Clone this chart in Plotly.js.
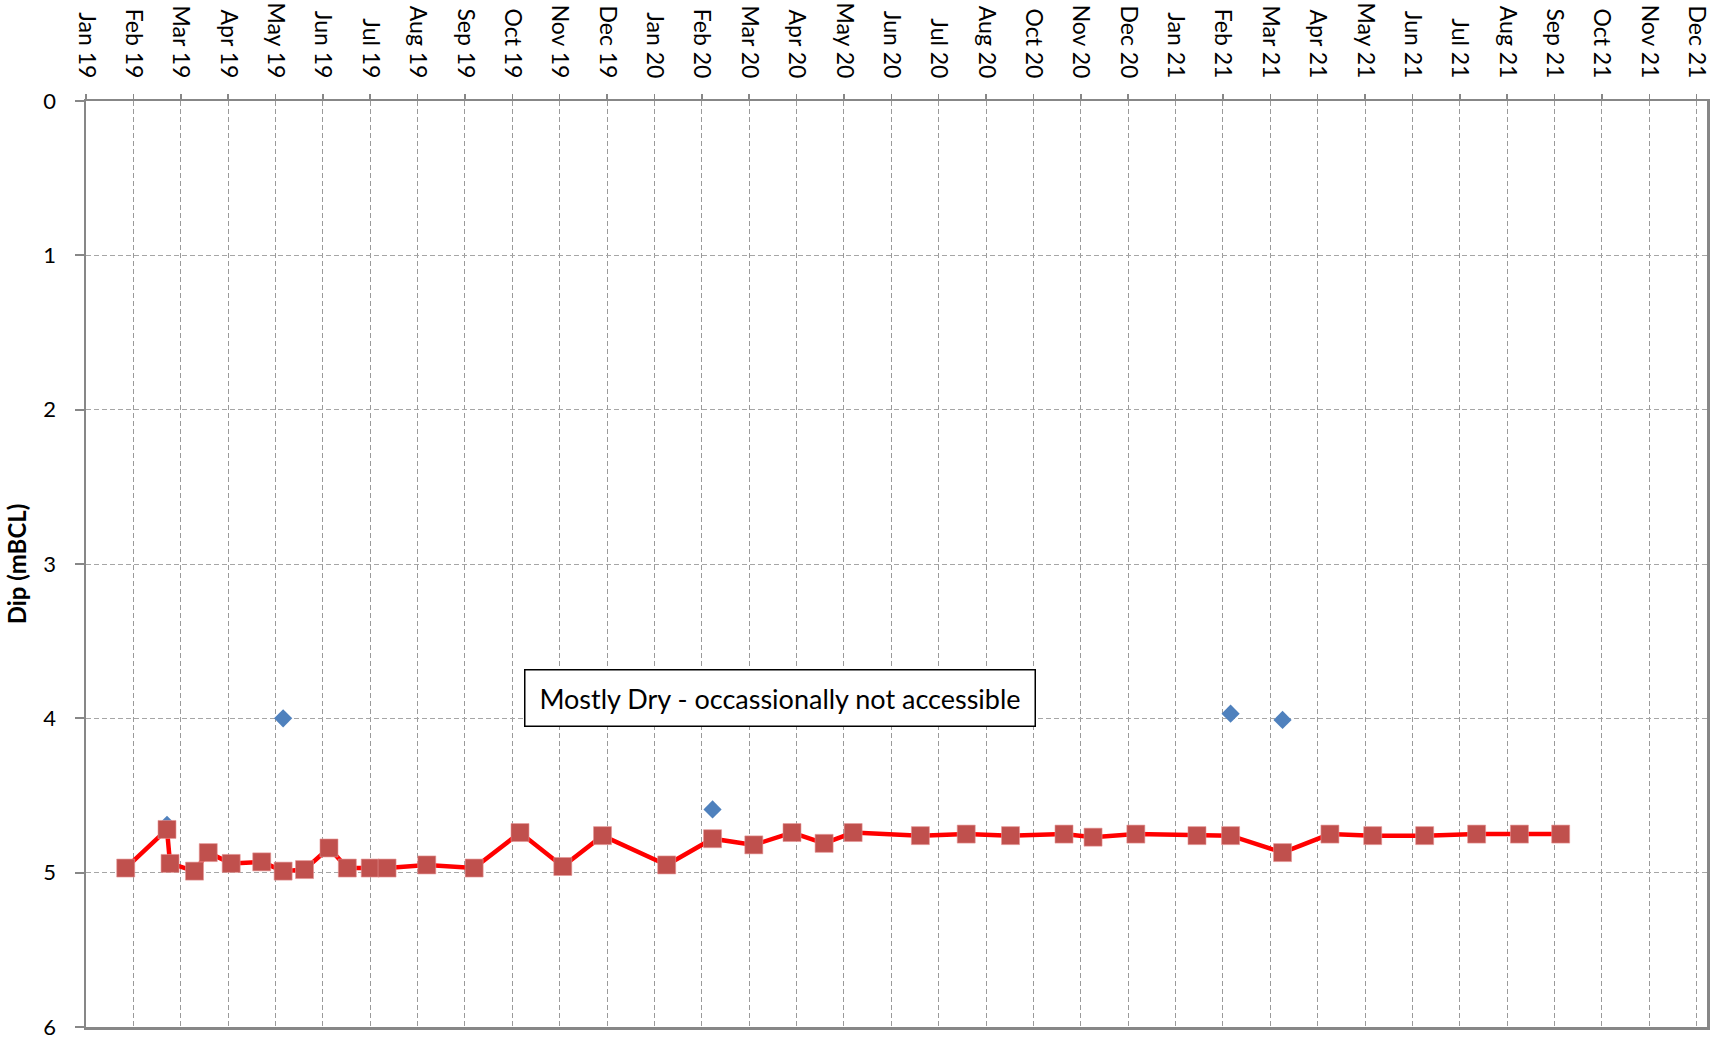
<!DOCTYPE html>
<html>
<head>
<meta charset="utf-8">
<script src="https://cdn.plot.ly/plotly-3.0.1.min.js"></script>
<style>html,body{margin:0;padding:0;background:#fff;}#chart{width:1712px;height:1040px;}</style>
</head>
<body>
<div id="chart"></div>
<script>
// Red series: dip readings (mBCL)
const dipDates = [
  '2019-02-15','2019-03-14','2019-03-16','2019-04-01','2019-04-10','2019-04-25','2019-05-15','2019-05-29',
  '2019-06-12','2019-06-28','2019-07-10','2019-07-25','2019-08-05','2019-08-31','2019-10-01','2019-10-31',
  '2019-11-28','2019-12-24','2020-02-04','2020-03-05','2020-04-01','2020-04-26','2020-05-17','2020-06-05',
  '2020-07-19','2020-08-18','2020-09-16','2020-10-21','2020-11-09','2020-12-07','2021-01-16','2021-02-07',
  '2021-03-13','2021-04-13','2021-05-11','2021-06-14','2021-07-18','2021-08-15','2021-09-11'
];
const dipValues = [
  4.97, 4.72, 4.94, 4.99, 4.87, 4.94, 4.93, 4.99,
  4.98, 4.84, 4.97, 4.97, 4.97, 4.95, 4.97, 4.74,
  4.96, 4.76, 4.95, 4.78, 4.82, 4.74, 4.81, 4.74,
  4.76, 4.75, 4.76, 4.75, 4.77, 4.75, 4.76, 4.76,
  4.87, 4.75, 4.76, 4.76, 4.75, 4.75, 4.75
];

// Blue series: secondary readings
const blueDates = ['2019-03-14','2019-05-29','2020-03-05','2021-02-07','2021-03-13'];
const blueValues = [4.69, 4.00, 4.59, 3.97, 4.01];

// Axis ticks
const tickDates = [
  '2019-01-20','2019-02-20','2019-03-23','2019-04-23','2019-05-24','2019-06-24','2019-07-25','2019-08-25',
  '2019-09-25','2019-10-26','2019-11-26','2019-12-27','2020-01-27','2020-02-27','2020-03-29','2020-04-29',
  '2020-05-30','2020-06-30','2020-07-31','2020-08-31','2020-10-01','2020-11-01','2020-12-02','2021-01-02',
  '2021-02-02','2021-03-05','2021-04-05','2021-05-06','2021-06-06','2021-07-07','2021-08-07','2021-09-07',
  '2021-10-08','2021-11-08','2021-12-09'
];
const tickLabels = [
  'Jan 19','Feb 19','Mar 19','Apr 19','May 19','Jun 19','Jul 19','Aug 19',
  'Sep 19','Oct 19','Nov 19','Dec 19','Jan 20','Feb 20','Mar 20','Apr 20',
  'May 20','Jun 20','Jul 20','Aug 20','Oct 20','Nov 20','Dec 20','Jan 21',
  'Feb 21','Mar 21','Apr 21','May 21','Jun 21','Jul 21','Aug 21','Sep 21',
  'Oct 21','Nov 21','Dec 21'
];
const yTicks = [0, 1, 2, 3, 4, 5, 6];
const noteText = 'Mostly Dry - occassionally not accessible';

const FONT = 'Lato, "Open Sans", "Liberation Sans", sans-serif';
const AXIS_GRAY = '#878787';

const traces = [
  {
    x: blueDates, y: blueValues, type: 'scatter', mode: 'markers',
    marker: {symbol: 'diamond', size: 14, color: '#4F81BD', line: {width: 0}},
    hoverinfo: 'x+y', showlegend: false, cliponaxis: false
  },
  {
    x: dipDates, y: dipValues, type: 'scatter', mode: 'lines+markers',
    line: {color: '#FF0000', width: 4.5},
    marker: {symbol: 'square', size: 18, color: '#C0504D', line: {width: 1, color: 'rgba(230,150,150,0.6)'}},
    hoverinfo: 'x+y', showlegend: false
  }
];

const layout = {
  width: 1712, height: 1040,
  margin: {l: 86, r: 5, t: 101, b: 13, pad: 0},
  paper_bgcolor: '#ffffff', plot_bgcolor: '#ffffff',
  font: {family: FONT, color: '#000000', size: 22},
  showlegend: false,
  xaxis: {
    type: 'date', side: 'top',
    range: ['2019-01-20', '2021-12-15 18:00'],
    tickmode: 'array', tickvals: tickDates, ticktext: tickLabels,
    tickangle: 90, tickfont: {family: FONT, size: 23, color: '#000'},
    ticks: 'outside', ticklen: 5, tickwidth: 1.5, tickcolor: AXIS_GRAY,
    ticklabelstandoff: 7, ticklabeloverflow: 'allow',
    showline: true, mirror: true, linecolor: AXIS_GRAY, linewidth: 2.5,
    showgrid: true, gridcolor: '#9a9a9a', gridwidth: 1, griddash: '5px,3px',
    zeroline: false, fixedrange: true
  },
  yaxis: {
    range: [6, 0], tickmode: 'array', tickvals: yTicks, ticktext: yTicks.map(String),
    tickfont: {family: FONT, size: 22, color: '#000'},
    ticks: 'outside', ticklen: 9, tickwidth: 2, tickcolor: AXIS_GRAY,
    ticklabelstandoff: 14, ticklabeloverflow: 'allow',
    showline: true, mirror: true, linecolor: AXIS_GRAY, linewidth: 2.5,
    showgrid: true, gridcolor: '#a6a6a6', gridwidth: 1, griddash: '5px,3px',
    zeroline: false, fixedrange: true,
    title: {text: 'Dip (mBCL)', font: {family: FONT, size: 24, color: '#000', weight: 'bold'}, standoff: 10}
  },
  annotations: [{
    xref: 'paper', yref: 'paper', x: 0.428, y: 0.355,
    xanchor: 'center', yanchor: 'middle',
    text: noteText, showarrow: false,
    font: {family: FONT, size: 27, color: '#000'},
    bgcolor: '#ffffff', bordercolor: '#000000', borderwidth: 1.5, borderpad: 2,
    width: 505, height: 51, align: 'center'
  }]
};

Plotly.newPlot('chart', traces, layout, {displayModeBar: false, staticPlot: true});
</script>
</body>
</html>
